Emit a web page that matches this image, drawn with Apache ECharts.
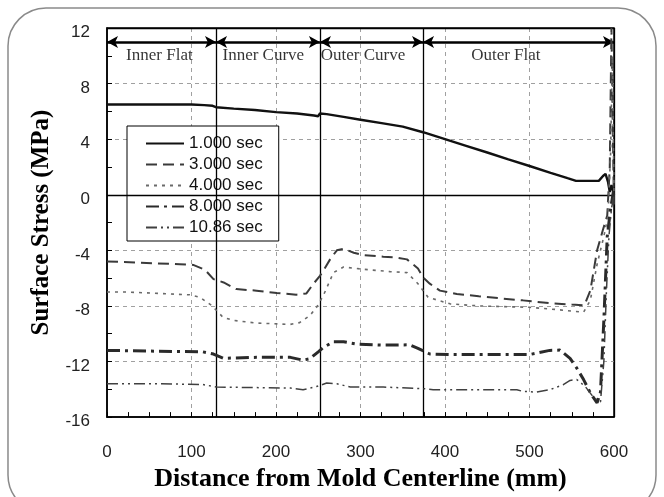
<!DOCTYPE html>
<html>
<head>
<meta charset="utf-8">
<script src="https://cdn.jsdelivr.net/npm/echarts@6/dist/echarts.min.js"></script>
<style>
  html, body { margin: 0; padding: 0; background: #fff; }
  #chart { width: 664px; height: 497px; }
</style>
</head>
<body>
<div id="chart"></div>
<script>
// Surface stress along the mold wall at several solidification times
const seriesNames = ['1.000 sec', '3.000 sec', '4.000 sec', '8.000 sec', '10.86 sec'];

const t1x = [0, 50, 100, 115, 125, 129, 150, 175, 200, 225, 245, 250, 252, 260, 280, 300, 325, 350, 374, 400, 425, 450, 475, 500, 525, 545, 555, 565, 575, 582, 587, 590, 593, 595, 597, 600];
const t1y = [6.5, 6.5, 6.5, 6.45, 6.4, 6.3, 6.2, 6.1, 5.95, 5.85, 5.7, 5.65, 5.85, 5.8, 5.6, 5.4, 5.15, 4.9, 4.5, 4.0, 3.52, 3.04, 2.55, 2.07, 1.58, 1.19, 1.0, 1.0, 1.0, 1.0, 1.35, 1.5, 0.9, 0.2, 0.7, 0];

const t3x = [0, 35, 86, 102, 116, 126, 138, 153, 177, 201, 224, 236, 244, 252, 256, 264, 272, 280, 292, 303, 327, 340, 355, 368, 374, 382, 394, 414, 440, 465, 492, 524, 550, 565, 572, 580, 587, 592, 595, 597, 598.5, 600];
const t3y = [-4.8, -4.88, -5.0, -5.05, -5.4, -6.07, -6.31, -6.79, -6.9, -7.07, -7.19, -7.1, -6.43, -5.83, -5.47, -4.65, -4.0, -3.89, -4.17, -4.34, -4.46, -4.5, -4.65, -5.3, -5.95, -6.4, -6.9, -7.14, -7.3, -7.45, -7.6, -7.8, -7.9, -7.95, -6.9, -4.0, -2.5, -1.5, 2, 12, 5, -1];

const t4x = [0, 24, 98, 110, 124, 137, 149, 177, 217, 228, 240, 248, 256, 262, 268, 280, 303, 335, 355, 368, 380, 406, 440, 500, 530, 564, 572, 580, 588, 593, 596, 598, 600];
const t4y = [-7.0, -7.0, -7.2, -7.38, -7.97, -8.8, -9.04, -9.23, -9.33, -9.2, -8.7, -8.1, -7.25, -6.43, -5.6, -5.2, -5.36, -5.53, -5.6, -6.4, -7.38, -7.85, -8.0, -8.1, -8.25, -8.45, -7.6, -5.0, -3.0, -1.5, 3, 10, 0];

const t8x = [0, 50, 113, 126, 138, 177, 217, 232, 240, 250, 256, 268, 280, 296, 327, 358, 368, 382, 406, 450, 500, 524, 536, 548, 556, 564, 572, 580, 584, 588, 592, 596, 600];
const t8y = [-11.2, -11.25, -11.3, -11.46, -11.77, -11.7, -11.7, -11.9, -11.8, -11.3, -10.99, -10.58, -10.58, -10.75, -10.82, -10.8, -11.06, -11.46, -11.5, -11.5, -11.5, -11.2, -11.18, -11.77, -12.48, -13.3, -14.26, -14.98, -14.2, -9, -3, -1, 0.5];

const t10x = [0, 60, 113, 130, 217, 232, 248, 260, 272, 288, 327, 374, 386, 485, 492, 508, 524, 540, 548, 556, 566, 576, 584, 588, 591, 594, 597, 600];
const t10y = [-13.6, -13.6, -13.65, -13.84, -13.91, -14.03, -13.8, -13.55, -13.6, -13.84, -13.84, -13.95, -14.03, -14.03, -14.15, -14.2, -14.03, -13.67, -13.36, -13.3, -13.8, -14.6, -14.9, -12, -7, -3, -1, 0];

// Mold regions
const sectionBounds = [0, 129, 252, 374, 600];
const sectionNames = ['Inner Flat', 'Inner Curve', 'Outer Curve', 'Outer Flat'];
const sectionLabelX = [62, 185, 303, 472];
const sectionArrowY = 11;
const sectionLabelY = 10;

// Axis ticks
const xTicks = [0, 100, 200, 300, 400, 500, 600];
const yTicks = [-16, -12, -8, -4, 0, 4, 8, 12];

function pairs(xs, ys) { return xs.map((x, i) => [x, ys[i]]); }

const lineStyles = [
  { color: '#111', width: 2.4, type: 'solid' },
  { color: '#3a3a3a', width: 2, type: [11, 6] },
  { color: '#6a6a6a', width: 1.6, type: [3, 5] },
  { color: '#2a2a2a', width: 3, type: [13, 5, 3, 5] },
  { color: '#404040', width: 1.5, type: [11, 4, 2, 4, 2, 4] }
];
const dataSets = [pairs(t1x, t1y), pairs(t3x, t3y), pairs(t4x, t4y), pairs(t8x, t8y), pairs(t10x, t10y)];

const chart = echarts.init(document.getElementById('chart'), null, { renderer: 'canvas' });

const series = seriesNames.map((name, i) => ({
  name: name,
  type: 'line',
  data: dataSets[i],
  symbol: 'none',
  smooth: false,
  lineStyle: lineStyles[i],
  itemStyle: { color: lineStyles[i].color },
  z: 5
}));

// region boundary lines, zero line, top and right frame
series.push({
  name: 'bounds',
  type: 'scatter',
  data: [],
  silent: true,
  markLine: {
    silent: true,
    symbol: ['none', 'none'],
    label: { show: false },
    lineStyle: { color: '#000', width: 1.3, type: 'solid' },
    data: sectionBounds.slice(1, -1).map(b => ({ xAxis: b }))
      .concat([{ yAxis: 0 }, { yAxis: yTicks[yTicks.length - 1] }, { xAxis: xTicks[xTicks.length - 1] }])
  },
  z: 4
});

// double-headed arrows spanning each region
series.push({
  name: 'arrows',
  type: 'scatter',
  data: [],
  silent: true,
  markLine: {
    silent: true,
    symbol: ['arrow', 'arrow'],
    symbolSize: [9, 11],
    label: { show: false },
    lineStyle: { color: '#000', width: 2.6, type: 'solid' },
    data: sectionNames.map((n, i) => [
      { coord: [sectionBounds[i], sectionArrowY] },
      { coord: [sectionBounds[i + 1], sectionArrowY] }
    ])
  },
  z: 6
});

// region names
series.push({
  name: 'regions',
  type: 'scatter',
  silent: true,
  symbolSize: 0,
  data: sectionNames.map((n, i) => [sectionLabelX[i], sectionLabelY, n]),
  label: {
    show: true,
    position: 'inside',
    formatter: p => p.value[2],
    fontFamily: 'Liberation Serif',
    fontSize: 17,
    color: '#000'
  },
  z: 6
});

chart.setOption({
  animation: false,
  backgroundColor: '#fff',
  graphic: [{
    type: 'rect',
    shape: { x: 8, y: 8, width: 648, height: 505, r: 38 },
    style: { fill: 'none', stroke: '#8a8a8a', lineWidth: 1.5 },
    silent: true,
    z: -10
  }],
  grid: {
    left: 107, top: 28, right: 50, bottom: 76,
    show: true, borderColor: '#000', borderWidth: 1.5, backgroundColor: 'transparent'
  },
  legend: {
    data: seriesNames,
    orient: 'vertical',
    left: 127, top: 126,
    backgroundColor: '#fff',
    borderColor: '#000',
    borderWidth: 1,
    borderRadius: 0,
    padding: [9, 16, 5, 18],
    itemWidth: 38,
    itemHeight: 14,
    itemGap: 4,
    itemStyle: { opacity: 0 },
    textStyle: { fontFamily: 'Liberation Sans', fontSize: 17, color: '#111' }
  },
  xAxis: {
    type: 'value',
    min: xTicks[0], max: xTicks[xTicks.length - 1], interval: 100,
    name: 'Distance from Mold Centerline (mm)',
    nameLocation: 'middle',
    nameGap: 45,
    nameTextStyle: { fontFamily: 'Liberation Serif', fontWeight: 'bold', fontSize: 26, color: '#000' },
    axisLine: { show: true, onZero: false, lineStyle: { color: '#000', width: 1.5 } },
    axisTick: { show: true, inside: true, length: 5, lineStyle: { color: '#000' } },
    minorTick: { show: true, splitNumber: 4, length: 5, lineStyle: { color: '#000' } },
    axisLabel: { margin: 27, fontFamily: 'Liberation Sans', fontSize: 17, color: '#222' },
    splitLine: { show: true, showMinLine: false, showMaxLine: false, lineStyle: { color: '#a0a0a0', type: [4, 4], width: 1 } }
  },
  yAxis: {
    type: 'value',
    min: yTicks[0], max: yTicks[yTicks.length - 1], interval: 4,
    name: 'Surface Stress (MPa)',
    nameLocation: 'middle',
    nameGap: 46,
    nameTextStyle: { fontFamily: 'Liberation Serif', fontWeight: 'bold', fontSize: 25, color: '#000' },
    axisLine: { show: true, onZero: false, lineStyle: { color: '#000', width: 1.5 } },
    axisTick: { show: true, inside: true, length: 5, lineStyle: { color: '#000' } },
    minorTick: { show: true, splitNumber: 2, length: 5, lineStyle: { color: '#000' } },
    axisLabel: {
      margin: 17,
      formatter: v => '{v|' + v + '}',
      rich: { v: { fontFamily: 'Liberation Sans', fontSize: 17, color: '#222', padding: [9, 0, 0, 0] } }
    },
    splitLine: { show: true, showMinLine: false, showMaxLine: false, lineStyle: { color: '#a0a0a0', type: [4, 4], width: 1 } }
  },
  series: series
});
</script>
</body>
</html>
